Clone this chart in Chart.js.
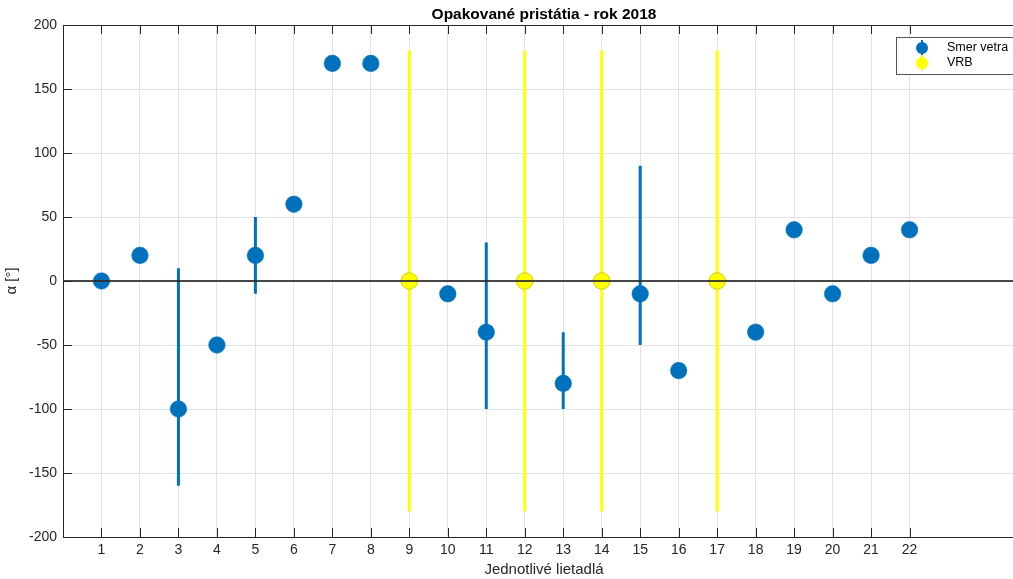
<!DOCTYPE html>
<html>
<head>
<meta charset="utf-8">
<script src="https://cdn.jsdelivr.net/npm/chart.js@4.4.1/dist/chart.umd.min.js"></script>
<style>
    body { margin: 0; overflow: hidden; background: #fff; }
    #wrap { width: 1040px; height: 579px; }
</style>
</head>
<body>
<div id="wrap"><canvas id="chart"></canvas></div>
<script>
// data
const planes = [1, 2, 3, 4, 5, 6, 7, 8, 9, 10, 11, 12, 13, 14, 15, 16, 17, 18, 19, 20, 21, 22];
const windDir = [0, 20, -100, -50, 20, 60, 170, 170, null, -10, -40, null, -80, null, -10, -70, null, -40, 40, -10, 20, 40];
const vrbPlanes = [9, 12, 14, 17];
const vrbValue = [0, 0, 0, 0];
const vrbLow = [-180, -180, -180, -180];
const vrbHigh = [180, 180, 180, 180];
const errPlanes = [3, 5, 11, 13, 15];
const errLow = [-160, -10, -100, -100, -50];
const errHigh = [10, 50, 30, -40, 90];
const yTicks = [-200, -150, -100, -50, 0, 50, 100, 150, 200];

const BLUE = '#0072BD';
const YELLOW = '#FFFF00';
const FONT = "'Liberation Sans', Arial, Helvetica, sans-serif";

// vertical error segments, broken by null points
function segments(xs, lo, hi) {
    const out = [];
    xs.forEach((x, i) => {
        out.push({ x: x, y: lo[i] });
        out.push({ x: x, y: hi[i] });
        out.push({ x: x, y: null });
    });
    return out;
}

const windPoints = planes.map((p, i) => ({ x: p, y: windDir[i] })).filter(d => d.y !== null);
const vrbPoints = vrbPlanes.map((p, i) => ({ x: p, y: vrbValue[i] }));

// MATLAB-like box, inward ticks and legend
const boxPlugin = {
    id: 'boxPlugin',
    afterDraw(chart) {
        const ctx = chart.ctx;
        const a = chart.chartArea;
        const xs = chart.scales.x;
        const ys = chart.scales.y;
        ctx.save();
        ctx.strokeStyle = '#262626';
        ctx.lineWidth = 1;
        ctx.strokeRect(a.left + 0.5, a.top + 0.5, a.right - a.left, a.bottom - a.top);
        ctx.beginPath();
        planes.forEach(p => {
            const px = Math.round(xs.getPixelForValue(p)) + 0.5;
            ctx.moveTo(px, a.top);
            ctx.lineTo(px, a.top + 9);
            ctx.moveTo(px, a.bottom);
            ctx.lineTo(px, a.bottom - 9);
        });
        yTicks.forEach(v => {
            const py = Math.round(ys.getPixelForValue(v)) + 0.5;
            ctx.moveTo(a.left, py);
            ctx.lineTo(a.left + 9, py);
        });
        ctx.stroke();

        // legend
        const lx = 896, ly = 37;
        ctx.fillStyle = '#fff';
        ctx.fillRect(lx, ly, 150, 37);
        ctx.strokeStyle = '#555';
        ctx.strokeRect(lx + 0.5, ly + 0.5, 150, 37);
        const items = [
            { label: 'Smer vetra', color: BLUE, y: 48 },
            { label: 'VRB', color: YELLOW, y: 63 }
        ];
        items.forEach(it => {
            ctx.strokeStyle = it.color;
            ctx.lineWidth = 2;
            ctx.beginPath();
            ctx.moveTo(922, it.y - 8);
            ctx.lineTo(922, it.y + 8);
            ctx.stroke();
            ctx.beginPath();
            ctx.arc(922, it.y, 6, 0, Math.PI * 2);
            ctx.fillStyle = it.color;
            ctx.fill();
            ctx.fillStyle = '#000';
            ctx.font = '12.5px ' + FONT;
            ctx.textBaseline = 'middle';
            ctx.textAlign = 'left';
            ctx.fillText(it.label, 947, it.y);
        });
        ctx.restore();
    }
};

new Chart(document.getElementById('chart'), {
    type: 'scatter',
    data: {
        datasets: [
            {
                data: [{ x: 0, y: 0 }, { x: 25, y: 0 }],
                showLine: true,
                borderColor: 'rgba(40,40,40,0.85)',
                borderWidth: 2,
                pointRadius: 0,
                order: 0
            },
            {
                label: 'Smer vetra',
                data: windPoints,
                pointRadius: 8.3,
                backgroundColor: BLUE,
                borderColor: BLUE,
                borderWidth: 0.5,
                order: 1
            },
            {
                label: 'VRB',
                data: vrbPoints,
                pointRadius: 8.3,
                backgroundColor: YELLOW,
                borderColor: '#d0d000',
                borderWidth: 1,
                order: 1
            },
            {
                data: segments(errPlanes, errLow, errHigh),
                showLine: true,
                borderColor: BLUE,
                borderWidth: 3,
                pointRadius: 0,
                order: 3
            },
            {
                data: segments(vrbPlanes, vrbLow, vrbHigh),
                showLine: true,
                borderColor: YELLOW,
                borderWidth: 3,
                pointRadius: 0,
                order: 3
            }
        ]
    },
    options: {
        responsive: true,
        maintainAspectRatio: false,
        animation: false,
        events: [],
        layout: { padding: { left: 0, right: 15, top: 0, bottom: 0 } },
        plugins: {
            legend: { display: false },
            tooltip: { enabled: false },
            title: {
                display: true,
                text: 'Opakované pristátia - rok 2018',
                fullSize: false,
                color: '#000',
                font: { family: FONT, size: 15.5, weight: 'bold' },
                padding: { top: 5, bottom: 1.4 }
            }
        },
        scales: {
            x: {
                type: 'linear',
                min: 0,
                max: 25,
                afterFit: s => { s.height = 42; },
                ticks: {
                    stepSize: 1,
                    autoSkip: false,
                    maxRotation: 0,
                    padding: 5,
                    color: '#262626',
                    font: { family: FONT, size: 14 },
                    callback: v => (v >= 1 && v <= 22) ? v : ''
                },
                grid: {
                    drawTicks: false,
                    color: c => (c.tick && c.tick.value >= 1 && c.tick.value <= 22) ? '#e3e3e3' : 'rgba(0,0,0,0)'
                },
                border: { display: false },
                title: {
                    display: true,
                    text: 'Jednotlivé lietadlá',
                    color: '#262626',
                    font: { family: FONT, size: 15 },
                    padding: { top: 0, bottom: 0.5 }
                }
            },
            y: {
                min: -200,
                max: 200,
                afterFit: s => { s.width = 63; },
                ticks: {
                    stepSize: 50,
                    padding: 6,
                    color: '#262626',
                    font: { family: FONT, size: 14 }
                },
                grid: {
                    drawTicks: false,
                    color: '#e3e3e3'
                },
                border: { display: false },
                title: {
                    display: true,
                    text: 'α [°]',
                    color: '#262626',
                    font: { family: FONT, size: 15 },
                    padding: { top: 3, bottom: 0 }
                }
            }
        }
    },
    plugins: [boxPlugin]
});
</script>
</body>
</html>
